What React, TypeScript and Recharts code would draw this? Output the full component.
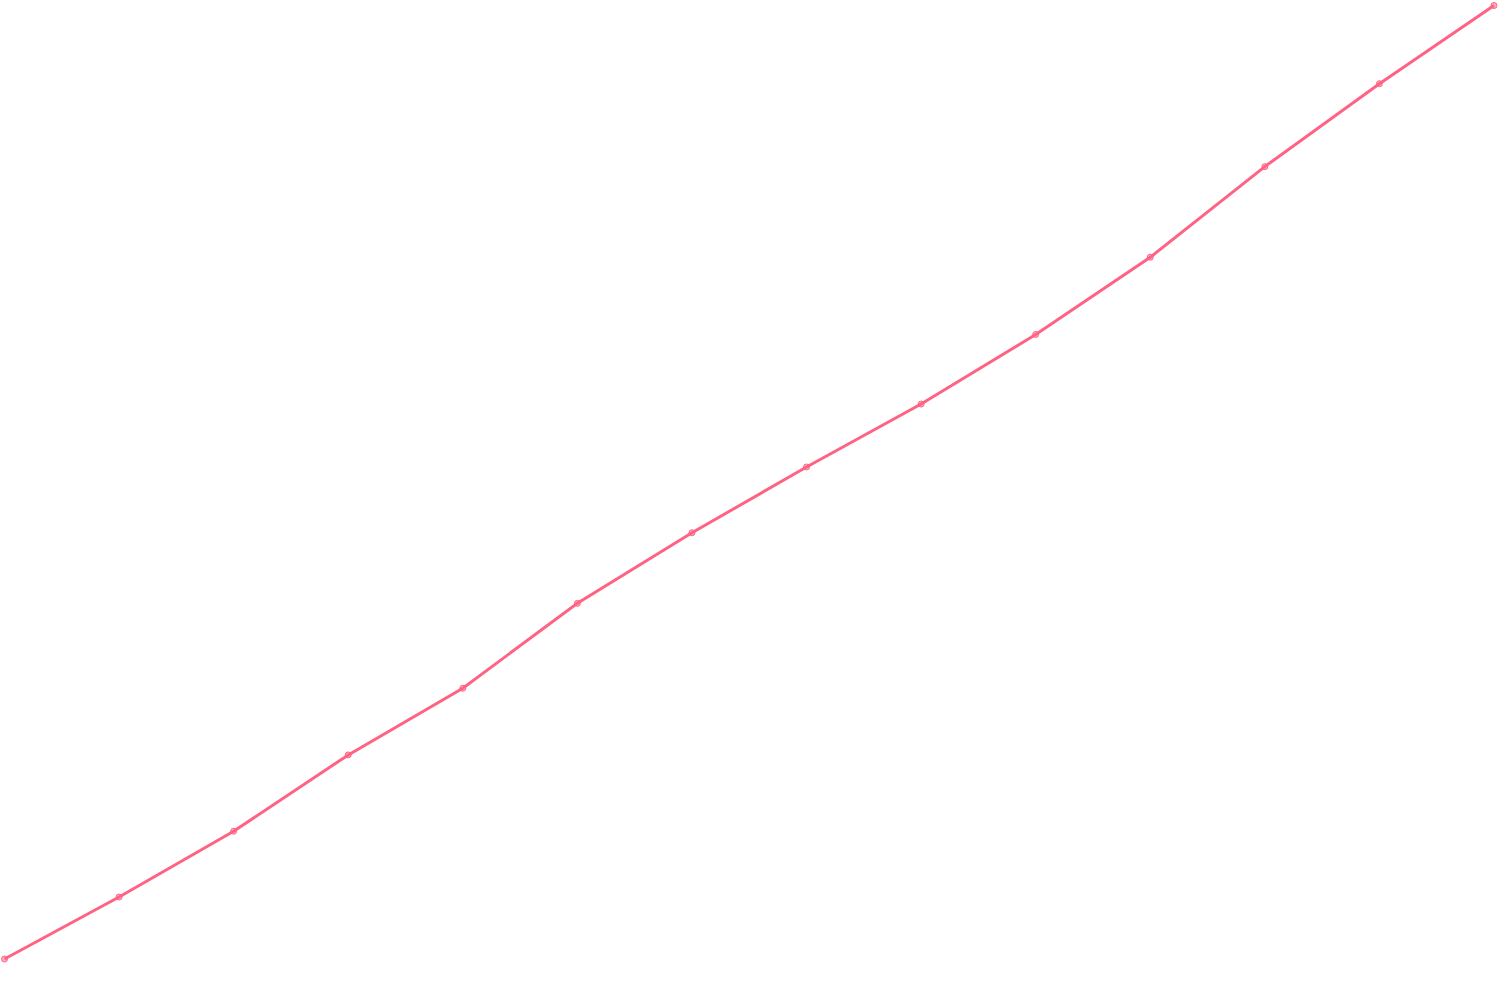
import { LineChart, Line, XAxis, YAxis } from "recharts";

const labels = ["1", "2", "3", "4", "5", "6", "7", "8", "9", "10", "11", "12", "13", "14"];
const values = [0, 6.5, 13.4, 21.4, 28.4, 37.3, 44.7, 51.6, 58.2, 65.5, 73.6, 83.1, 91.8, 100];

const data = labels.map((label, i) => ({ label, value: values[i] }));

export default function App() {
  return (
    <div style={{ position: "absolute", left: 0, top: 0, width: 1500, height: 1000, background: "#fff" }}>
      <LineChart width={1500} height={1000} data={data} margin={{ top: 5.5, right: 6, left: 4.5, bottom: 41 }}>
        <XAxis dataKey="label" hide />
        <YAxis hide domain={[0, 100]} />
        <Line
          type="linear"
          dataKey="value"
          stroke="#FF6384"
          strokeWidth={3}
          dot={{ r: 3, fill: "rgba(255,99,132,0.5)", stroke: "#FF6384", strokeWidth: 1 }}
          isAnimationActive={false}
        />
      </LineChart>
    </div>
  );
}
